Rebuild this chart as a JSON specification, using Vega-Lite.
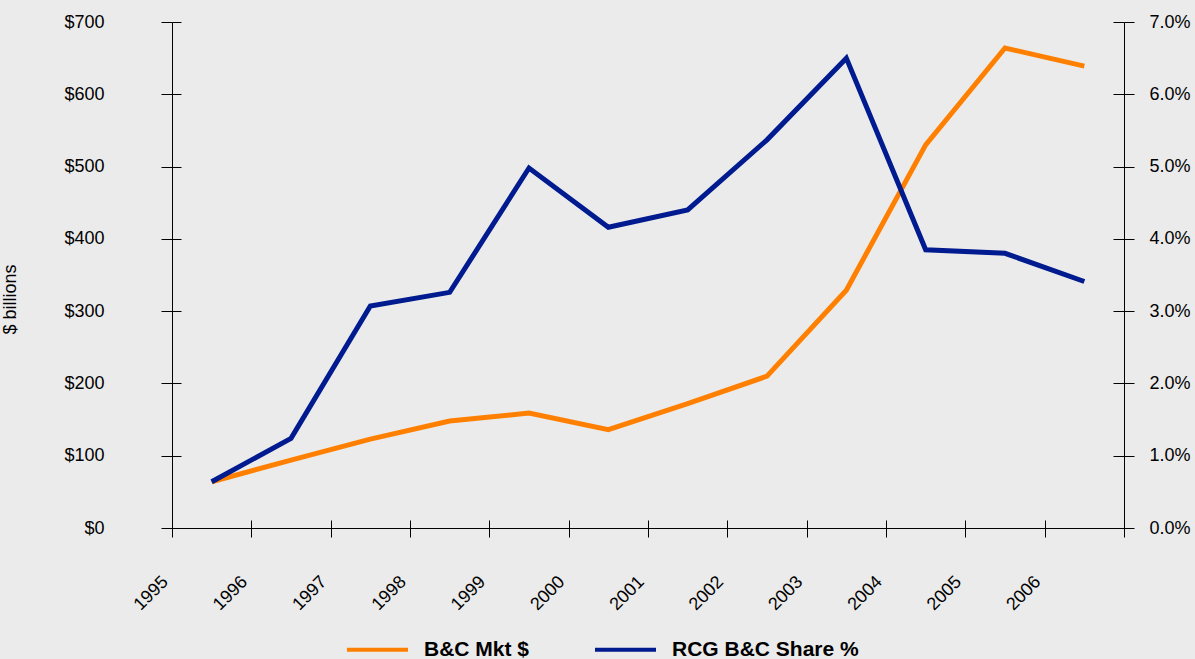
{
  "$schema": "https://vega.github.io/schema/vega-lite/v6.json",
  "width": 952,
  "height": 506,
  "autosize": {"type": "none"},
  "padding": {"left": 172, "top": 22, "right": 71, "bottom": 131},
  "background": "#EBEBEB",
  "config": {
    "view": {"stroke": null},
    "font": "Liberation Sans",
    "axis": {
      "grid": false,
      "domainColor": "#000000",
      "domainWidth": 1,
      "tickColor": "#000000",
      "tickWidth": 1,
      "labelColor": "#000000",
      "labelFont": "Liberation Sans",
      "labelFontSize": 18,
      "titleFont": "Liberation Sans",
      "titleColor": "#000000"
    },
    "legend": {
      "orient": "none",
      "legendX": 173,
      "legendY": 595,
      "direction": "horizontal",
      "symbolType": "stroke",
      "symbolStrokeWidth": 4,
      "symbolSize": 3721,
      "labelFont": "Liberation Sans",
      "labelFontSize": 21,
      "labelFontWeight": "bold",
      "labelColor": "#000000",
      "labelOffset": 14,
      "labelLimit": 400,
      "columnPadding": 57,
      "padding": 0
    }
  },
  "data": {
    "values": [
      {"year": 1995, "series": "B&C Mkt $", "value": 64},
      {"year": 1996, "series": "B&C Mkt $", "value": 94},
      {"year": 1997, "series": "B&C Mkt $", "value": 123},
      {"year": 1998, "series": "B&C Mkt $", "value": 148},
      {"year": 1999, "series": "B&C Mkt $", "value": 159},
      {"year": 2000, "series": "B&C Mkt $", "value": 136},
      {"year": 2001, "series": "B&C Mkt $", "value": 172},
      {"year": 2002, "series": "B&C Mkt $", "value": 210},
      {"year": 2003, "series": "B&C Mkt $", "value": 329},
      {"year": 2004, "series": "B&C Mkt $", "value": 530},
      {"year": 2005, "series": "B&C Mkt $", "value": 664},
      {"year": 2006, "series": "B&C Mkt $", "value": 639},
      {"year": 1995, "series": "RCG B&C Share %", "value": 0.0064},
      {"year": 1996, "series": "RCG B&C Share %", "value": 0.0124},
      {"year": 1997, "series": "RCG B&C Share %", "value": 0.0307},
      {"year": 1998, "series": "RCG B&C Share %", "value": 0.0326},
      {"year": 1999, "series": "RCG B&C Share %", "value": 0.0498},
      {"year": 2000, "series": "RCG B&C Share %", "value": 0.0416},
      {"year": 2001, "series": "RCG B&C Share %", "value": 0.0440},
      {"year": 2002, "series": "RCG B&C Share %", "value": 0.0537},
      {"year": 2003, "series": "RCG B&C Share %", "value": 0.0650},
      {"year": 2004, "series": "RCG B&C Share %", "value": 0.0385},
      {"year": 2005, "series": "RCG B&C Share %", "value": 0.0380},
      {"year": 2006, "series": "RCG B&C Share %", "value": 0.0341}
    ]
  },
  "layer": [
    {
      "transform": [{"filter": "datum.series === 'B&C Mkt $'"}],
      "mark": {"type": "line", "strokeWidth": 5, "strokeJoin": "miter", "strokeCap": "butt"},
      "encoding": {
        "x": {
          "field": "year",
          "type": "quantitative",
          "scale": {"domain": [1994.5, 2006.5], "nice": false, "zero": false},
          "axis": {
            "orient": "bottom",
            "title": null,
            "values": [1994.5, 1995.5, 1996.5, 1997.5, 1998.5, 1999.5, 2000.5, 2001.5, 2002.5, 2003.5, 2004.5, 2005.5, 2006.5],
            "labelExpr": "datum.value < 2006 ? '' + (datum.value + 0.5) : ''",
            "labelAngle": -45,
            "labelAlign": "right",
            "labelBaseline": "middle",
            "labelOffset": -7,
            "tickSize": 9,
            "labelPadding": 42,
            "labelFlush": false,
            "labelOverlap": false,
            "labelBound": false
          }
        },
        "y": {
          "field": "value",
          "type": "quantitative",
          "scale": {"domain": [0, 700], "nice": false},
          "axis": {
            "orient": "left",
            "values": [0, 100, 200, 300, 400, 500, 600, 700],
            "format": "$.0f",
            "tickSize": 11,
            "labelPadding": 57,
            "title": "$ billions",
            "titleFontSize": 18,
            "titleFontWeight": "normal",
            "titleX": -162,
            "titleY": 277,
            "titleAngle": -90,
            "titleBaseline": "middle",
            "titleAlign": "center"
          }
        },
        "color": {
          "field": "series",
          "type": "nominal",
          "scale": {"domain": ["B&C Mkt $", "RCG B&C Share %"], "range": ["#FF8000", "#001A8F"]},
          "legend": {"title": null}
        }
      }
    },
    {
      "transform": [{"filter": "datum.series === 'RCG B&C Share %'"}],
      "mark": {"type": "line", "strokeWidth": 5, "strokeJoin": "miter", "strokeCap": "butt"},
      "encoding": {
        "x": {"field": "year", "type": "quantitative", "axis": null},
        "y": {
          "field": "value",
          "type": "quantitative",
          "scale": {"domain": [0, 0.07], "nice": false},
          "axis": {
            "orient": "right",
            "values": [0, 0.01, 0.02, 0.03, 0.04, 0.05, 0.06, 0.07],
            "format": ".1%",
            "tickSize": 10,
            "labelPadding": 15,
            "title": null
          }
        },
        "color": {"field": "series", "type": "nominal"}
      }
    },
    {
      "description": "inner half of the crossing ticks on the x axis and the left axis",
      "transform": [{"filter": "datum.series === 'B&C Mkt $'"}],
      "mark": {"type": "line", "opacity": 0},
      "encoding": {
        "x": {
          "field": "year",
          "type": "quantitative",
          "axis": {
            "orient": "bottom",
            "title": null,
            "values": [1994.5, 1995.5, 1996.5, 1997.5, 1998.5, 1999.5, 2000.5, 2001.5, 2002.5, 2003.5, 2004.5, 2005.5, 2006.5],
            "labels": false,
            "domain": false,
            "tickSize": -8
          }
        },
        "y": {
          "field": "value",
          "type": "quantitative",
          "scale": {"domain": [0, 700], "nice": false},
          "axis": {
            "orient": "left",
            "values": [0, 100, 200, 300, 400, 500, 600, 700],
            "labels": false,
            "domain": false,
            "title": null,
            "tickSize": -9
          }
        }
      }
    },
    {
      "description": "inner half of the crossing ticks on the right axis",
      "transform": [{"filter": "datum.series === 'RCG B&C Share %'"}],
      "mark": {"type": "line", "opacity": 0},
      "encoding": {
        "x": {"field": "year", "type": "quantitative", "axis": null},
        "y": {
          "field": "value",
          "type": "quantitative",
          "scale": {"domain": [0, 0.07], "nice": false},
          "axis": {
            "orient": "right",
            "values": [0, 0.01, 0.02, 0.03, 0.04, 0.05, 0.06, 0.07],
            "labels": false,
            "domain": false,
            "title": null,
            "tickSize": -11
          }
        }
      }
    }
  ],
  "resolve": {"scale": {"y": "independent"}, "axis": {"x": "independent", "y": "independent"}}
}
